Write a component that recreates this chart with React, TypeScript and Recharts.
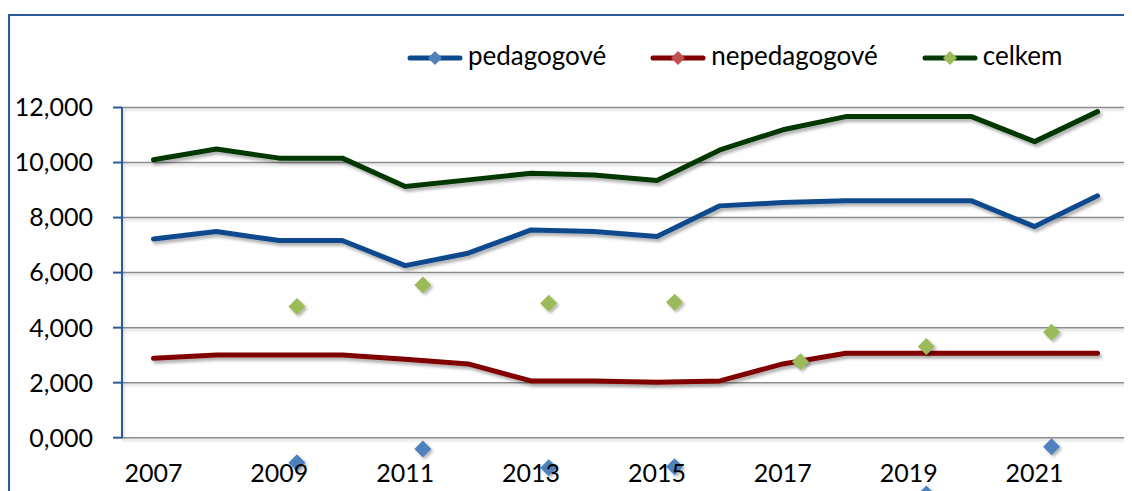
import React from 'react';
import { ComposedChart, Line, Scatter, XAxis, YAxis, CartesianGrid, Legend, ReferenceLine } from 'recharts';

const years = [2007, 2008, 2009, 2010, 2011, 2012, 2013, 2014, 2015, 2016, 2017, 2018, 2019, 2020, 2021, 2022];
const pedagogove = [7225, 7490, 7165, 7165, 6255, 6705, 7550, 7490, 7310, 8425, 8545, 8607, 8607, 8607, 7673, 8790];
const nepedagogove = [2887, 3007, 3007, 3007, 2850, 2680, 2062, 2062, 2015, 2062, 2680, 3070, 3070, 3070, 3070, 3070];
const celkem = [10100, 10490, 10160, 10160, 9130, 9370, 9610, 9550, 9350, 10460, 11190, 11670, 11670, 11670, 10760, 11850];

const celkemMarkerYears = [2009.28, 2011.28, 2013.28, 2015.28, 2017.28, 2019.28, 2021.27];
const celkemMarkerValues = [4765, 5553, 4887, 4923, 2763, 3310, 3833];
const pedagogoveMarkerYears = [2009.28, 2011.28, 2013.28, 2015.28, 2019.28, 2021.27];
const pedagogoveMarkerValues = [-909, -411, -1090, -1055, -2050, -327];

const yTicks = [0, 2000, 4000, 6000, 8000, 10000, 12000];
const xLabelTicks = [2007, 2009, 2011, 2013, 2015, 2017, 2019, 2021];
const xBoundaryTicks = [2006.5, 2007.5, 2008.5, 2009.5, 2010.5, 2011.5, 2012.5, 2013.5, 2014.5, 2015.5, 2016.5, 2017.5, 2018.5, 2019.5, 2020.5, 2021.5, 2022.5];

const seriesNames = ['pedagogové', 'nepedagogové', 'celkem'];
const lineColors = ['#0d4a8c', '#800000', '#063806'];
const markerColors = ['#4f81bd', '#c0504d', '#9bbb59'];

const AXIS_BLUE = '#2a5a9b';
const GRID = '#8c8c8c';
const FONT = 'Lato, "Open Sans", sans-serif';

const lineData = years.map((year, i) => ({
  year,
  ped: pedagogove[i],
  neped: nepedagogove[i],
  cel: celkem[i],
}));
const celkemMarkers = celkemMarkerYears.map((year, i) => ({ year, v: celkemMarkerValues[i] }));
const pedMarkers = pedagogoveMarkerYears.map((year, i) => ({ year, v: pedagogoveMarkerValues[i] }));

const makeDiamond = (color: string) => (props: any) => {
  const { cx, cy } = props;
  if (cx == null || cy == null) return <g />;
  const r = 8.5;
  return (
    <polygon
      points={`${cx},${cy - r} ${cx + r},${cy} ${cx},${cy + r} ${cx - r},${cy}`}
      fill={color}
      filter="url(#shd)"
    />
  );
};

const fmtY = (v: number) => `${Math.floor(v / 1000)},${String(v % 1000).padStart(3, '0')}`;

const LegendContent = () => (
  <div style={{ height: 71.5, display: 'flex', alignItems: 'flex-start', fontFamily: FONT, fontSize: 26, color: '#000' }}>
    {seriesNames.map((name, i) => (
      <div key={name} style={{ display: 'flex', alignItems: 'center', height: 44.6, marginRight: 44 }}>
        <svg width={56} height={20} style={{ display: 'block' }}>
          <line x1={3} x2={53} y1={10} y2={10} stroke={lineColors[i]} strokeWidth={5} strokeLinecap="round" />
          <polygon points="28,3 35,10 28,17 21,10" fill={markerColors[i]} />
        </svg>
        <span style={{ marginLeft: 5, lineHeight: 1, position: 'relative', top: -3, whiteSpace: 'nowrap' }}>{name}</span>
      </div>
    ))}
  </div>
);

const css = `
.recharts-wrapper g[clip-path]{clip-path:none !important;}
.recharts-line-curve{filter:url(#shl);}
.recharts-cartesian-grid-horizontal line{filter:url(#shg);}
.recharts-cartesian-axis-line{filter:url(#shg);}
`;

export default function App() {
  return (
    <div style={{ paddingTop: 6 }}>
      <style>{css}</style>
      <svg width={0} height={0} style={{ position: 'absolute' }}>
        <defs>
          <filter id="shl" filterUnits="userSpaceOnUse" x={-100} y={-100} width={3000} height={2000}>
            <feDropShadow dx={2} dy={3} stdDeviation={1.8} floodColor="#000" floodOpacity={0.3} />
          </filter>
          <filter id="shg" filterUnits="userSpaceOnUse" x={-100} y={-100} width={3000} height={2000}>
            <feDropShadow dx={1} dy={2} stdDeviation={1.5} floodColor="#000" floodOpacity={0.2} />
          </filter>
          <filter id="shd" filterUnits="userSpaceOnUse" x={-100} y={-100} width={3000} height={2000}>
            <feDropShadow dx={2} dy={2} stdDeviation={1.5} floodColor="#000" floodOpacity={0.3} />
          </filter>
        </defs>
      </svg>
      <div
        style={{
          width: 1122,
          height: 475,
          borderTop: `2px solid ${AXIS_BLUE}`,
          borderLeft: `2px solid ${AXIS_BLUE}`,
          overflow: 'hidden',
        }}
      >
        <ComposedChart width={1122} height={475} data={lineData} margin={{ top: 20, right: 3, bottom: 0, left: 0 }}>
          <Legend
            verticalAlign="top"
            align="left"
            content={<LegendContent />}
            wrapperStyle={{ left: 397, top: 20, width: 700 }}
          />
          <CartesianGrid vertical={false} stroke={GRID} strokeWidth={1.5} xAxisId="t" />
          <XAxis
            xAxisId="t"
            dataKey="year"
            type="number"
            domain={[2006.5, 2022.5]}
            ticks={xBoundaryTicks}
            interval={0}
            tick={false}
            tickSize={9}
            height={0}
            axisLine={{ stroke: AXIS_BLUE, strokeWidth: 2 }}
            tickLine={{ stroke: AXIS_BLUE, strokeWidth: 2 }}
          />
          <XAxis
            xAxisId="l"
            dataKey="year"
            type="number"
            domain={[2006.5, 2022.5]}
            ticks={xLabelTicks}
            interval={0}
            tickSize={0}
            tickMargin={27}
            height={53.3}
            axisLine={false}
            tickLine={false}
            tick={{ fontFamily: FONT, fontSize: 25, fill: '#000' }}
          />
          <YAxis
            domain={[0, 12000]}
            allowDataOverflow
            ticks={yTicks}
            interval={0}
            tickFormatter={fmtY}
            width={112}
            tickSize={9}
            tickMargin={20}
            axisLine={{ stroke: AXIS_BLUE, strokeWidth: 2 }}
            tickLine={{ stroke: AXIS_BLUE, strokeWidth: 2 }}
            tick={{ fontFamily: FONT, fontSize: 25, fill: '#000' }}
          />
          <ReferenceLine x={2022.5} xAxisId="t" stroke={GRID} strokeWidth={1.5} />
          <Line xAxisId="t" dataKey="ped" name={seriesNames[0]} stroke={lineColors[0]} strokeWidth={5} dot={false} activeDot={false} strokeLinecap="round" strokeLinejoin="round" isAnimationActive={false} />
          <Line xAxisId="t" dataKey="neped" name={seriesNames[1]} stroke={lineColors[1]} strokeWidth={5} dot={false} activeDot={false} strokeLinecap="round" strokeLinejoin="round" isAnimationActive={false} />
          <Line xAxisId="t" dataKey="cel" name={seriesNames[2]} stroke={lineColors[2]} strokeWidth={5} dot={false} activeDot={false} strokeLinecap="round" strokeLinejoin="round" isAnimationActive={false} />
          <Scatter xAxisId="t" data={pedMarkers} dataKey="v" shape={makeDiamond(markerColors[0])} isAnimationActive={false} />
          <Scatter xAxisId="t" data={celkemMarkers} dataKey="v" shape={makeDiamond(markerColors[2])} isAnimationActive={false} />
        </ComposedChart>
      </div>
    </div>
  );
}
